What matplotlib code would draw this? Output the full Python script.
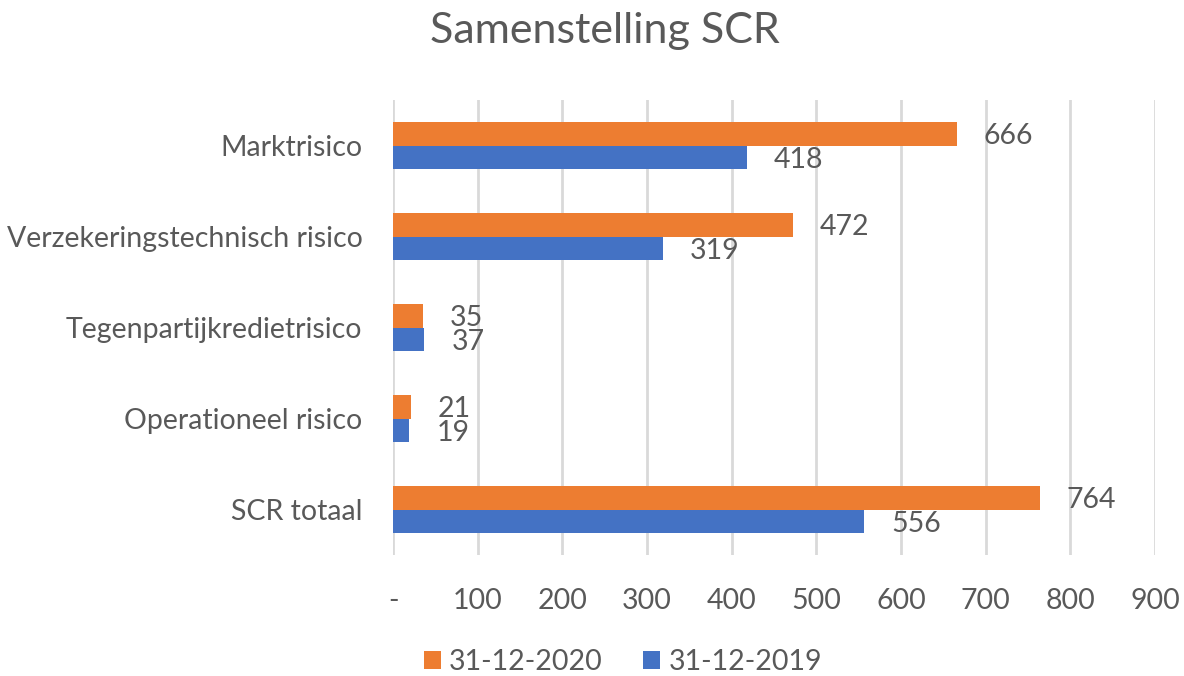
import matplotlib
matplotlib.use("Agg")
import matplotlib.pyplot as plt
import numpy as np

categories = ["Marktrisico", "Verzekeringstechnisch risico", "Tegenpartijkredietrisico",
              "Operationeel risico", "SCR totaal"]
values_2020 = [666, 472, 35, 21, 764]
values_2019 = [418, 319, 37, 19, 556]
series_names = ["31-12-2020", "31-12-2019"]
tick_values = [0, 100, 200, 300, 400, 500, 600, 700, 800, 900]
tick_labels = ["-", "100", "200", "300", "400", "500", "600", "700", "800", "900"]

plt.rcParams['font.family'] = ['Lato', 'DejaVu Sans']
txt = "#595959"
c_or = "#ED7D31"
c_bl = "#4472C4"
fs = 20.5

fig = plt.figure(figsize=(11.84, 6.76), dpi=100)
ax = fig.add_axes([0.332, 0.179, 0.6435, 0.673])

y = np.arange(len(categories))
h = 0.26
ax.barh(y - h / 2, values_2020, height=h, color=c_or, label=series_names[0], zorder=3)
ax.barh(y + h / 2, values_2019, height=h, color=c_bl, label=series_names[1], zorder=3)

for yi, v in zip(y, values_2020):
    ax.text(v + 32, yi - h / 2, str(v), va="center_baseline", ha="left", fontsize=fs, color=txt)
for yi, v in zip(y, values_2019):
    ax.text(v + 32, yi + h / 2, str(v), va="center_baseline", ha="left", fontsize=fs, color=txt)

ax.set_ylim(len(categories) - 0.5, -0.5)
ax.set_xlim(0, 900)
ax.set_yticks(y)
ax.set_yticklabels(categories, fontsize=fs, color=txt)
ax.set_xticks(tick_values)
ax.set_xticklabels(tick_labels, fontsize=fs, color=txt)
ax.tick_params(axis="both", length=0)
ax.tick_params(axis="y", pad=22)
ax.tick_params(axis="x", pad=24)
ax.grid(axis="x", color="#d9d9d9", linewidth=2, zorder=0)
for s in ax.spines.values():
    s.set_visible(False)

fig.suptitle("Samenstelling SCR", fontsize=31, color=txt, x=0.511, y=0.982)
fig.legend(loc="center", bbox_to_anchor=(0.526, 0.021), ncol=2, frameon=False,
           fontsize=fs, handlelength=0.6, handleheight=0.6, handletextpad=0.3,
           columnspacing=1.4, labelcolor=txt)

fig.savefig("out.png", dpi=100)
